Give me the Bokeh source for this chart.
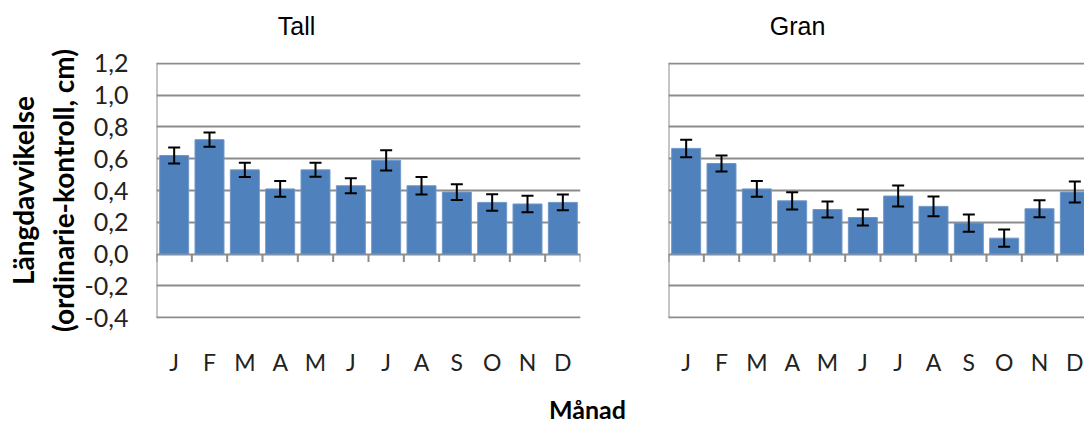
from bokeh.plotting import figure
from bokeh.core.properties import value
from bokeh.models import ColumnDataSource, Whisker, TeeHead, FixedTicker, Range1d, Span, Title
from bokeh.layouts import row, column
from bokeh.embed import file_html
from bokeh.resources import INLINE

# Monthly mean length deviation (ordinarie - kontroll, cm) with error bars
months = ["J", "F", "M", "A", "M", "J", "J", "A", "S", "O", "N", "D"]
tall_mean = [0.62, 0.72, 0.53, 0.41, 0.53, 0.43, 0.59, 0.43, 0.39, 0.325, 0.315, 0.325]
tall_err = [0.05, 0.045, 0.045, 0.05, 0.044, 0.047, 0.064, 0.055, 0.05, 0.052, 0.052, 0.05]
gran_mean = [0.665, 0.57, 0.41, 0.335, 0.28, 0.23, 0.365, 0.30, 0.195, 0.10, 0.285, 0.39]
gran_err = [0.055, 0.05, 0.05, 0.054, 0.05, 0.05, 0.066, 0.062, 0.054, 0.054, 0.054, 0.066]
y_ticks = [-0.4, -0.2, 0.0, 0.2, 0.4, 0.6, 0.8, 1.0, 1.2]
y_tick_labels = ["-0,4", "-0,2", "0,0", "0,2", "0,4", "0,6", "0,8", "1,0", "1,2"]
panel_titles = ["Tall", "Gran"]
x_title = "Månad"

BAR = "#4F81BD"
GRID = "#8c8c8c"
CAL = "Lato"
ARIAL = "Liberation Sans"
W, H = 1084, 424
TOP_H = 40      # strip with the panel titles
BOTTOM_H = 44   # strip with the shared x-axis title
PANEL_H = H - TOP_H - BOTTOM_H


def panel(mean, err, width, border_left, border_right, x_end, show_y):
    p = figure(width=width, height=PANEL_H, output_backend="svg", toolbar_location=None,
               x_range=Range1d(0, x_end), y_range=Range1d(-0.406, 1.206),
               min_border_left=border_left, min_border_right=border_right,
               min_border_top=22, min_border_bottom=62)
    p.outline_line_color = None
    p.background_fill_color = "white"
    p.border_fill_color = "white"

    centers = [i + 0.5 for i in range(len(months))]
    src = ColumnDataSource(dict(
        x=centers, top=mean,
        upper=[m + e for m, e in zip(mean, err)],
        lower=[m - e for m, e in zip(mean, err)],
    ))

    # horizontal grid
    p.xgrid.visible = False
    p.ygrid.ticker = FixedTicker(ticks=y_ticks)
    p.ygrid.grid_line_color = GRID
    p.ygrid.grid_line_width = 2

    # y axis
    p.yaxis.ticker = FixedTicker(ticks=y_ticks)
    p.yaxis.major_label_overrides = {t: s for t, s in zip(y_ticks, y_tick_labels)}
    p.yaxis.major_tick_line_color = None
    p.yaxis.minor_tick_line_color = None
    p.yaxis.major_tick_out = 0
    p.yaxis.major_tick_in = 0
    p.yaxis.axis_line_color = None
    p.yaxis.major_label_standoff = 28
    p.yaxis.major_label_text_font = CAL
    p.yaxis.major_label_text_font_size = "25px"
    p.yaxis.major_label_text_color = "#222222"
    if not show_y:
        p.yaxis.visible = False

    # x axis: month labels under the frame
    p.xaxis.ticker = FixedTicker(ticks=centers)
    p.xaxis.major_label_overrides = {c: m for c, m in zip(centers, months)}
    p.xaxis.major_tick_line_color = None
    p.xaxis.minor_tick_line_color = None
    p.xaxis.major_tick_out = 0
    p.xaxis.axis_line_color = None
    p.xaxis.major_label_standoff = 29
    p.xaxis.major_label_text_font = CAL
    p.xaxis.major_label_text_font_size = "23px"
    p.xaxis.major_label_text_color = "#222222"

    # left axis line of the frame
    p.add_layout(Span(location=0, dimension="height", line_color=GRID, line_width=2))

    p.vbar(x="x", top="top", bottom=0, width=0.82, source=src,
           fill_color=BAR, line_color="#6f97c9", line_width=1)

    # category separators on the zero line
    bounds = list(range(len(months) + 1))
    p.segment(x0=bounds, y0=[0] * len(bounds), x1=bounds, y1=[-0.05] * len(bounds),
              line_color=GRID, line_width=2)

    p.add_layout(Whisker(base="x", upper="upper", lower="lower", source=src, level="overlay",
                         line_color="black", line_width=2,
                         upper_head=TeeHead(size=12, line_color="black", line_width=2),
                         lower_head=TeeHead(size=12, line_color="black", line_width=2)))
    return p


left = panel(tall_mean, tall_err, 640, 156, 60, 12, True)
right = panel(gran_mean, gran_err, 444, 28, 0, 416 / (424 / 12), False)

# two-line y-axis title, innermost line first
left.add_layout(Title(text="(ordinarie-kontroll, cm)", align="center", offset=9, standoff=4,
                      text_font=CAL, text_font_style="bold", text_font_size="28px",
                      text_color="black"), "left")
left.add_layout(Title(text="Längdavvikelse", align="center", offset=15, standoff=3,
                      text_font=CAL, text_font_style="bold", text_font_size="28px",
                      text_color="black"), "left")


def strip(height):
    s = figure(width=W, height=height, output_backend="svg", toolbar_location=None,
               x_range=Range1d(0, W), y_range=Range1d(0, height), min_border=0)
    s.axis.visible = False
    s.grid.visible = False
    s.outline_line_color = None
    return s


# panel titles above the two charts
top = strip(TOP_H)
top.text(x=[296, 797], y=[15, 15], text=panel_titles, text_font=value(ARIAL),
         text_font_size="25px", text_align="center", text_baseline="middle",
         text_color="black")

# shared x-axis title
bottom = strip(BOTTOM_H)
bottom.text(x=[587], y=[16], text=[x_title], text_font=value(CAL), text_font_style="bold",
            text_font_size="25px", text_align="center", text_baseline="middle",
            text_color="black")

layout = column(top, row(left, right), bottom)
open("out.html", "w").write(file_html(layout, INLINE))
